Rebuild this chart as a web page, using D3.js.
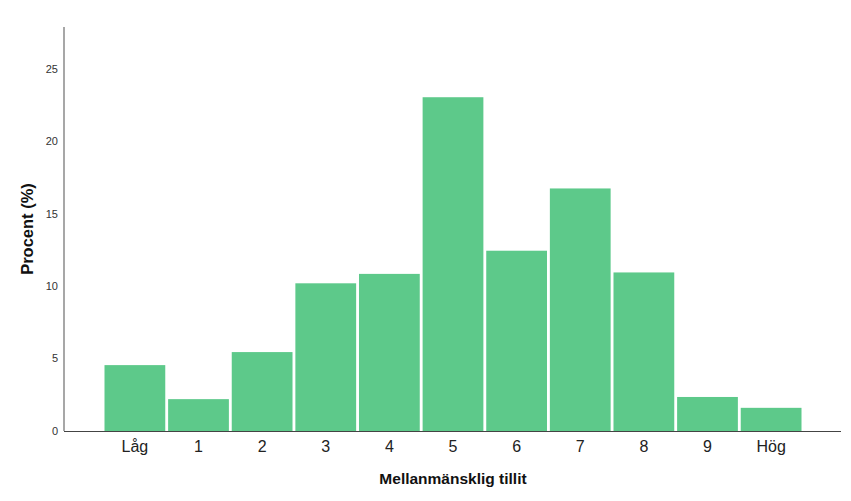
<!DOCTYPE html>
<html><head><meta charset="utf-8">
<script src="https://cdn.jsdelivr.net/npm/d3@7"></script>
<style>body{margin:0;background:#fff}svg{display:block}text{font-family:"Liberation Sans",Arial,sans-serif}</style>
</head><body><svg id="c" width="851" height="501"></svg>
<script>
const categories = ["Låg","1","2","3","4","5","6","7","8","9","Hög"];
const values = [4.55, 2.2, 5.45, 10.2, 10.85, 23.05, 12.45, 16.75, 10.95, 2.35, 1.6];
const yTicks = [0,5,10,15,20,25];
const yTitle = "Procent (%)";
const xTitle = "Mellanmänsklig tillit";

(function(){
const svg = d3.select("#c");
const mLeft = 64, mRight = 841, mTop = 27, mBottom = 431;
const x = d3.scaleBand().domain(categories).range([104.5, 801.5]).paddingInner(0.045).paddingOuter(0);
const y = d3.scaleLinear().domain([0, 27.9]).range([mBottom, mTop]);

svg.append("g").selectAll("rect").data(values).join("rect")
  .attr("x",(d,i)=>x(categories[i])).attr("width",x.bandwidth())
  .attr("y",d=>y(d)).attr("height",d=>mBottom-y(d))
  .attr("fill","#5dc98a");

svg.append("line").attr("x1",mLeft).attr("x2",mLeft).attr("y1",mTop).attr("y2",mBottom)
  .attr("stroke","#8a8a8a").attr("stroke-width",1.5);
svg.append("line").attr("x1",mLeft).attr("x2",mRight).attr("y1",mBottom+0.5).attr("y2",mBottom+0.5)
  .attr("stroke","#444").attr("stroke-width",1.2);

svg.append("g").selectAll("text").data(yTicks).join("text")
  .attr("x",58).attr("y",d=>y(d)).attr("dy","0.35em").attr("text-anchor","end")
  .attr("font-size",11).attr("fill","#333").text(d=>d);

svg.append("g").selectAll("text").data(categories).join("text")
  .attr("x",d=>x(d)+x.bandwidth()/2).attr("y",452).attr("text-anchor","middle")
  .attr("font-size",16).attr("fill","#222").text(d=>d);

svg.append("text").attr("transform","translate(33,229) rotate(-90)").attr("text-anchor","middle")
  .attr("font-size",16.5).attr("font-weight","bold").attr("fill","#111").text(yTitle);
svg.append("text").attr("x",453).attr("y",484).attr("text-anchor","middle")
  .attr("font-size",15.5).attr("font-weight","bold").attr("fill","#111").text(xTitle);
})();
</script></body></html>
